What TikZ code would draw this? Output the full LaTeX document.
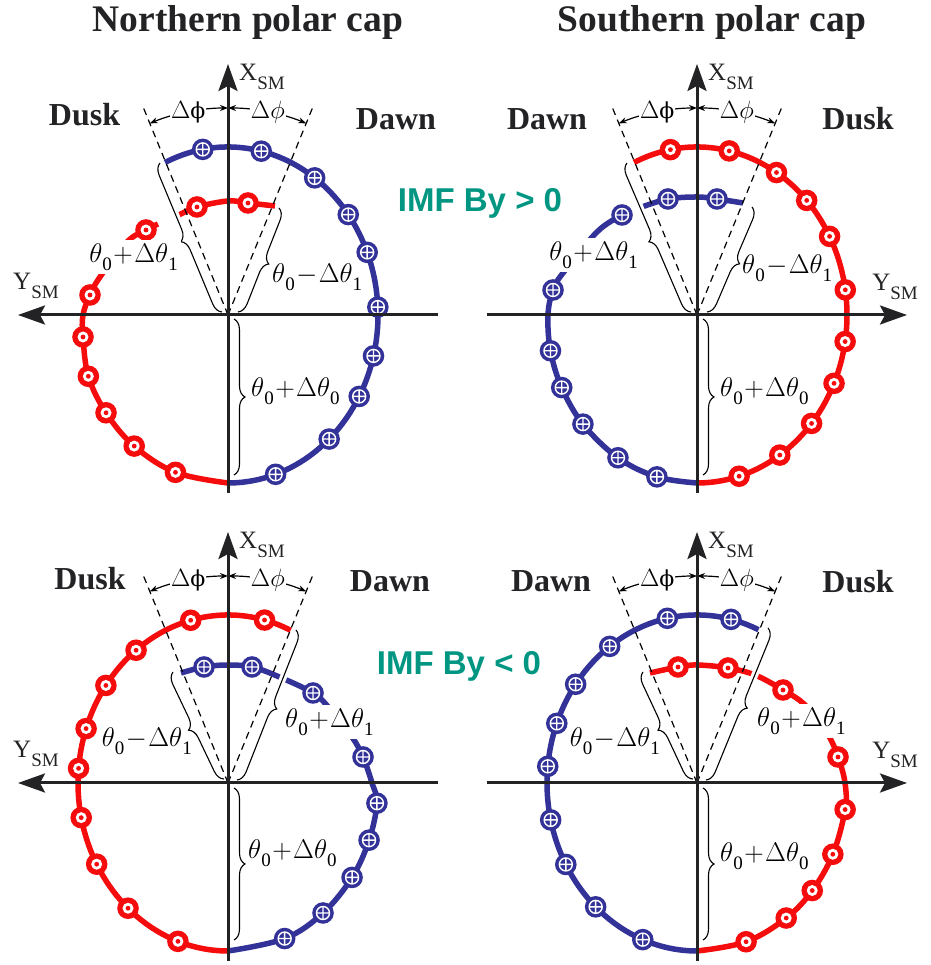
\documentclass[tikz,border=0pt]{standalone}
\usepackage{fix-cm}
\usepackage[no-math]{fontspec}
\setmainfont{Liberation Serif}
\newfontfamily\imffont{Liberation Sans}
\newfontfamily\dvserif{DejaVu Serif}
\usetikzlibrary{arrows.meta,decorations.pathreplacing}
\definecolor{myblue}{RGB}{50,50,152}
\definecolor{myred}{RGB}{245,12,12}
\definecolor{myteal}{RGB}{0,150,130}
\definecolor{axisgray}{RGB}{35,35,38}
\tikzset{
  bline/.style={myblue, line width=5.5pt},
  rline/.style={myred, line width=5.5pt},
  axisline/.style={axisgray, line width=3pt, -{Stealth[length=27pt,width=19pt,inset=5pt]}},
  dashline/.style={black, line width=1.2pt, dash pattern=on 7pt off 5pt},
  dimarrow/.style={black, line width=1.2pt, {Stealth[length=8pt,width=6pt]}-{Stealth[length=8pt,width=6pt]}},
  curly/.style={decorate, decoration={brace, amplitude=11pt}, black, line width=1.1pt},
  curlyhalo/.style={decorate, decoration={brace, amplitude=11pt}, white, line width=7pt},
  mathlbl/.style={font=\fontsize{27}{29}\selectfont, inner sep=1pt},
  coverlbl/.style={fill=white, inner sep=3pt},
  phil/.style={font=\fontsize{25}{27}\selectfont, fill=white, inner sep=1pt},
  sidelbl/.style={font=\fontsize{32}{34}\selectfont\bfseries, anchor=base, text=axisgray},
  ttl/.style={font=\fontsize{37.5}{40}\selectfont\bfseries, anchor=base, text=axisgray},
  imflbl/.style={font=\imffont\fontsize{33}{35}\selectfont\bfseries, text=myteal, anchor=base},
  axlbl/.style={font=\fontsize{25}{27}\selectfont, inner sep=0pt, text=axisgray},
  rdot/.pic={\fill[myred] (0,0) circle[radius=10.8pt]; \fill[white] (0,0) circle[radius=5.5pt]; \fill[myred] (0,0) circle[radius=2.4pt];},
  bdot/.pic={\fill[myblue] (0,0) circle[radius=10.8pt]; \draw[white, line width=1.4pt] (0,0) circle[radius=6.5pt] (-6.5pt,0) -- (6.5pt,0) (0,-6.5pt) -- (0,6.5pt);}
}
\newcommand\sbx[1]{\raisebox{-8.5pt}{\fontsize{19}{19}\selectfont #1}}
\newcommand\tlabel[3]{$\theta$\sbx{#1}$\mkern1mu{#2}\mkern1mu\Delta\theta$\sbx{#3}}
\newcommand\bracedraw[2]{\draw[curlyhalo] #1 -- #2; \draw[curly] #1 -- #2;}
\newcommand\panelcommon[1]{%
  \draw[dashline] (0,0) -- (112.2:225);
  \draw[dashline] (0,0) -- (67.8:225);
  \draw[dimarrow] (90:207) arc[start angle=90,end angle=112.2,radius=207pt];
  \draw[dimarrow] (90:207) arc[start angle=90,end angle=67.8,radius=207pt];
  \node[phil] at (101.1:207) {$\Delta${\dvserif\fontsize{22}{24}\selectfont ϕ}};
  \node[phil] at (78.9:207) {$\Delta\phi$};
  \draw[axisline] (0,-178) -- (0,251);
  \draw[axisline] ({-210*#1},0) -- ({210*#1},0);
  \node[axlbl, anchor=base west] at (11,234) {X\raisebox{-9pt}{\fontsize{19}{20}\selectfont SM}};
}
\newcommand\ysmlabel{Y\raisebox{-9pt}{\fontsize{19}{20}\selectfont SM}}
\begin{document}
\begin{tikzpicture}[x=1pt,y=1pt]
\useasboundingbox (0,0) rectangle (930,965);
\fill[white] (0,0) rectangle (930,965);

% titles and side labels
\node[ttl] (t1) at (248,933) {Northern polar cap};
\node[ttl] (t2) at (712,933) {Southern polar cap};
\node[sidelbl] (d1) at (84.5,839) {Dusk};
\node[sidelbl] (w1) at (396,835) {Dawn};
\node[sidelbl] (w2) at (547,835) {Dawn};
\node[sidelbl] (d2) at (858,835) {Dusk};
\node[sidelbl] (d3) at (90,375) {Dusk};
\node[sidelbl] (w3) at (390,373) {Dawn};
\node[sidelbl] (w4) at (551,373) {Dawn};
\node[sidelbl] (d4) at (858,372) {Dusk};
\node[imflbl] (imfp) at (480,753) {IMF By > 0};
\node[imflbl] (imfn) at (459,290) {IMF By < 0};

% ---------- Panel 1: north, By>0
\begin{scope}[shift={(228,650)}]
\draw[bline] (114.8:150 and 168) arc[start angle=114.8,end angle=-90,x radius=150pt,y radius=168pt];
\draw[rline] plot[smooth,tension=0.6] coordinates {(47,109) (20,112) (0,114) (-31,108) (-49,100)};
\draw[rline] plot[smooth,tension=0.6] coordinates {(-70,91) (-82,85) (-101,73) (-128,38) (-138,20) (-145,0) (-145,-22) (201.4:150 and 168) (215.6:150 and 168) (231.3:150 and 168) (249.5:150 and 168) (270:150 and 168)};
\foreach \a in {99.7,77.2,54.7,36.7,21.9,2.7,-14.1,-29,-47.6,-71.5} \pic at (\a:150 and 168) {bdot};
\foreach \p in {{(20,112)},{(-31,108)},{(-82,85)},{(-138,20)},{(-145,-22)}} \pic at \p {rdot};
\foreach \a in {201.4,215.6,231.3,249.5} \pic at (\a:150 and 168) {rdot};
\bracedraw{(-6,3)}{(-68,152)}
\bracedraw{(51,107)}{(10,3)}
\bracedraw{(6,-4)}{(6,-160)}
\panelcommon{-1}
\node[axlbl, anchor=base west] at (-215,25) {\ysmlabel};
\node[mathlbl, coverlbl, anchor=east] at (-47,58) {\tlabel{0}{+}{1}};
\node[mathlbl, anchor=west] at (43,38) {\tlabel{0}{-}{1}};
\node[mathlbl, anchor=west] at (22,-76) {\tlabel{0}{+}{0}};
\end{scope}

% ---------- Panel 2: south, By>0
\begin{scope}[shift={(697,650)}]
\draw[rline] (114.8:150 and 168) arc[start angle=114.8,end angle=-90,x radius=150pt,y radius=168pt];
\draw[bline] plot[smooth,tension=0.6] coordinates {(46,112) (20,116) (0,118) (-29,116) (-55,108)};
\draw[bline] plot[smooth,tension=0.6] coordinates {(-66,104) (-75,100) (-100,83) (-134,42) (-144,25) (-149,0) (192.3:150 and 168) (205.6:150 and 168) (220.5:150 and 168) (238.2:150 and 168) (254.5:150 and 168) (270:150 and 168)};
\foreach \a in {100.2,77.6,58,43,27.9,8.6,-9.1,-24,-40.2,-56.5,-73.7} \pic at (\a:150 and 168) {rdot};
\foreach \p in {{(20,116)},{(-29,116)},{(-75,100)},{(-144,25)}} \pic at \p {bdot};
\foreach \a in {192.3,205.6,220.5,238.2,254.5} \pic at (\a:150 and 168) {bdot};
\bracedraw{(-6,3)}{(-70,152)}
\bracedraw{(55,108)}{(10,3)}
\bracedraw{(6,-4)}{(6,-160)}
\panelcommon{1}
\node[axlbl, anchor=base east] at (221,24) {\ysmlabel};
\node[mathlbl, coverlbl, anchor=east] at (-56,60) {\tlabel{0}{+}{1}};
\node[mathlbl, anchor=west] at (44,47) {\tlabel{0}{-}{1}};
\node[mathlbl, anchor=west] at (22,-76) {\tlabel{0}{+}{0}};
\end{scope}

% ---------- Panel 3: north, By<0
\begin{scope}[shift={(228,182)}]
\draw[rline] (65.3:150 and 168) arc[start angle=65.3,end angle=270,x radius=150pt,y radius=168pt];
\draw[bline] plot[smooth,tension=0.6] coordinates {(-47,110) (-24,116) (0,118) (24,116) (49,107) (85,90) (102,74) (124,46) (135,26) (144,0) (-6.9:150 and 168) (-19.9:150 and 168) (-34.2:150 and 168) (-50.7:150 and 168) (-67.8:150 and 168) (-90:150 and 168)};
\foreach \a in {75.9,104.4,127.8,144.5,161.1,175,191.9,208.9,228.2,250.5} \pic at (\a:150 and 168) {rdot};
\foreach \p in {{(-24,116)},{(24,116)},{(85,90)},{(135,26)}} \pic at \p {bdot};
\foreach \a in {-6.9,-19.9,-34.2,-50.7,-67.8} \pic at (\a:150 and 168) {bdot};
\bracedraw{(-4,4)}{(-55,111)}
\bracedraw{(68,153)}{(9,3)}
\bracedraw{(6,-5)}{(6,-157)}
\panelcommon{-1}
\node[axlbl, anchor=base west] at (-215,25) {\ysmlabel};
\node[mathlbl, anchor=east] at (-35,42) {\tlabel{0}{-}{1}};
\node[mathlbl, coverlbl, anchor=west] at (54,61) {\tlabel{0}{+}{1}};
\node[mathlbl, anchor=west] at (19,-70) {\tlabel{0}{+}{0}};
\end{scope}

% ---------- Panel 4: south, By<0
\begin{scope}[shift={(697,182)}]
\draw[bline] (65.8:150 and 168) arc[start angle=65.8,end angle=270,x radius=150pt,y radius=168pt];
\draw[rline] plot[smooth,tension=0.6] coordinates {(-47,110) (-19,116) (0,118) (31,115) (58,108) (86,93) (108,78) (130,50) (141,26) (148,0) (-9.1:150 and 168) (-25.1:150 and 168) (-39.8:150 and 168) (-53.5:150 and 168) (-70.9:150 and 168) (-90:150 and 168)};
\foreach \a in {76.9,101.4,125.6,144,159.2,174.3,192.7,209,227.5,248.8} \pic at (\a:150 and 168) {bdot};
\foreach \p in {{(-19,116)},{(31,115)},{(86,93)},{(141,26)}} \pic at \p {rdot};
\foreach \a in {-9.1,-25.1,-39.8,-53.5,-70.9} \pic at (\a:150 and 168) {rdot};
\bracedraw{(-4,4)}{(-54,111)}
\bracedraw{(71,155)}{(9,3)}
\bracedraw{(6,-5)}{(6,-157)}
\panelcommon{1}
\node[axlbl, anchor=base east] at (221,24) {\ysmlabel};
\node[mathlbl, anchor=east] at (-36,42) {\tlabel{0}{-}{1}};
\node[mathlbl, coverlbl, anchor=west] at (57,62) {\tlabel{0}{+}{1}};
\node[mathlbl, anchor=west] at (22,-73) {\tlabel{0}{+}{0}};
\end{scope}
\end{tikzpicture}
\end{document}
